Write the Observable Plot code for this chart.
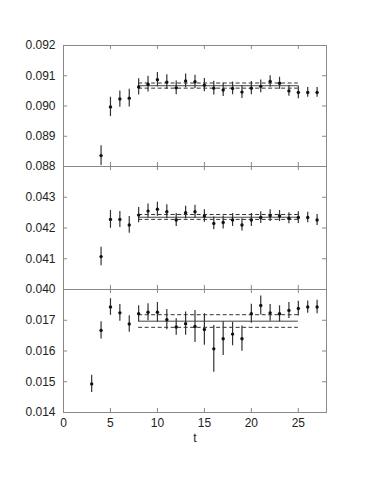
<!DOCTYPE html>
<html><head><meta charset="utf-8">
<script src="https://cdn.jsdelivr.net/npm/d3@7"></script>
<script src="https://cdn.jsdelivr.net/npm/@observablehq/plot@0.6"></script>
<style>
html,body{margin:0;padding:0;background:#fff}
#c{position:relative;width:382px;height:494px;overflow:hidden;background:#fff}
#c svg{position:absolute;left:0}
</style></head><body><div id="c"></div>
<script>
// x axis
const xTicks = [0, 5, 10, 15, 20, 25];

// Panel 1
const t1 = [4,5,6,7,8,9,10,11,12,13,14,15,16,17,18,19,20,21,22,23,24,25,26,27];
const v1 = [0.08836,0.08997,0.09023,0.09026,0.09063,0.09072,0.09087,0.09079,0.09060,0.09083,0.09080,0.09069,0.09059,0.09053,0.09058,0.09046,0.09059,0.09065,0.09081,0.09075,0.09050,0.09045,0.09045,0.09045];
const e1 = [0.00033,0.00032,0.00027,0.00029,0.00027,0.00026,0.00024,0.00024,0.00023,0.00023,0.00022,0.00022,0.00023,0.00022,0.00021,0.00021,0.00022,0.00021,0.00019,0.00020,0.00018,0.00021,0.00016,0.00016];
const fit1 = [0.09067, 0.09059, 0.09076];
const yTicks1 = [0.088, 0.089, 0.090, 0.091, 0.092];

// Panel 2
const t2 = [4,5,6,7,8,9,10,11,12,13,14,15,16,17,18,19,20,21,22,23,24,25,26,27];
const v2 = [0.04107,0.04228,0.04228,0.04210,0.04242,0.04255,0.04261,0.04253,0.04226,0.04250,0.04253,0.04239,0.04215,0.04218,0.04226,0.04210,0.04226,0.04234,0.04240,0.04239,0.04232,0.04234,0.04234,0.04226];
const e2 = [0.00030,0.00029,0.00026,0.00027,0.00025,0.00023,0.00023,0.00023,0.00021,0.00021,0.00021,0.00020,0.00021,0.00021,0.00021,0.00020,0.00021,0.00019,0.00019,0.00018,0.00018,0.00019,0.00017,0.00018];
const fit2 = [0.04235, 0.04228, 0.04244];
const yTicks2 = [0.040, 0.041, 0.042, 0.043];

// Panel 3
const t3 = [3,4,5,6,7,8,9,10,11,12,13,14,15,16,17,18,19,20,21,22,23,24,25,26,27];
const v3 = [0.01493,0.01667,0.01743,0.01724,0.01688,0.01721,0.01726,0.01726,0.01702,0.01678,0.01689,0.01680,0.01670,0.01607,0.01640,0.01655,0.01640,0.01721,0.01748,0.01724,0.01721,0.01732,0.01738,0.01743,0.01743];
const e3 = [0.00028,0.00028,0.00027,0.00027,0.00027,0.00026,0.00028,0.00032,0.00033,0.00027,0.00038,0.00052,0.00051,0.00076,0.00055,0.00038,0.00041,0.00031,0.00031,0.00027,0.00026,0.00026,0.00024,0.00020,0.00022];
const fit3 = [0.01697, 0.01677, 0.01718];
const yTicks3 = [0.014, 0.015, 0.016, 0.017];

const fitRange = [8, 25];
const font = "'Liberation Sans', Arial, Helvetica, sans-serif";

function panel({t, v, e, fit, ydom, yticks, top, height, mt, mb, bottomAxis}) {
  const data = t.map((d, i) => ({t: d, v: v[i], e: e[i]}));
  const [y0, y1] = ydom;
  const xl = 0.43, yl = (y1 - y0) * 0.033;
  const allY = d3.range(0, 5).map(i => +(y0 + i * (y1 - y0) / 4).toFixed(4));
  const innerX = [5, 10, 15, 20, 25];
  const fits = [{y: fit[0], dash: null}, {y: fit[1], dash: "4,2.5"}, {y: fit[2], dash: "4,2.5"}];
  const marks = [
    Plot.ruleY(allY, {y: d => d, x1: 0, x2: xl, stroke: "#888"}),
    Plot.ruleY(allY, {y: d => d, x1: 28 - xl, x2: 28, stroke: "#888"}),
    Plot.ruleX(innerX, {x: d => d, y1: y0, y2: y0 + yl, stroke: "#888"}),
    Plot.ruleX(innerX, {x: d => d, y1: y1 - yl, y2: y1, stroke: "#888"}),
    Plot.frame({stroke: "#888"}),
    Plot.ruleY(fits.filter(f => !f.dash), {y: "y", x1: fitRange[0], x2: fitRange[1], stroke: "#444", strokeWidth: 1}),
    Plot.ruleY(fits.filter(f => f.dash), {y: "y", x1: fitRange[0], x2: fitRange[1], stroke: "#333", strokeWidth: 1, strokeDasharray: "4,2.5"}),
    Plot.ruleX(data, {x: "t", y1: d => d.v - d.e, y2: d => d.v + d.e, stroke: "#333", strokeWidth: 1.2}),
    Plot.dot(data, {x: "t", y: "v", r: 1.7, fill: "#111", stroke: "none"})
  ];
  if (bottomAxis) marks.push(Plot.text(["t"], {frameAnchor: "bottom", dy: 29, fontSize: 12, fill: "#222"}));
  const svg = Plot.plot({
    width: 382, height,
    marginLeft: 63, marginRight: 56, marginTop: mt, marginBottom: mb,
    style: {background: "transparent", fontFamily: font, fontSize: "12px", color: "#222", overflow: "visible"},
    x: {domain: [0, 28], ticks: xTicks, tickSize: 0, tickPadding: 6, label: null, axis: bottomAxis ? "bottom" : null},
    y: {domain: ydom, ticks: yticks, tickSize: 0, tickPadding: 8, tickFormat: d3.format(".3f"), label: null},
    marks
  });
  svg.style.top = top + "px";
  svg.style.position = "absolute";
  svg.style.left = "0px";
  return svg;
}

const c = document.getElementById("c");
c.appendChild(panel({t: t1, v: v1, e: e1, fit: fit1, ydom: [0.088, 0.092], yticks: yTicks1, top: 0, height: 176, mt: 45, mb: 10, bottomAxis: false}));
c.appendChild(panel({t: t2, v: v2, e: e2, fit: fit2, ydom: [0.040, 0.044], yticks: yTicks2, top: 156, height: 143, mt: 10, mb: 10, bottomAxis: false}));
c.appendChild(panel({t: t3, v: v3, e: e3, fit: fit3, ydom: [0.014, 0.018], yticks: yTicks3, top: 279, height: 215, mt: 10, mb: 82, bottomAxis: true}));
</script></body></html>
